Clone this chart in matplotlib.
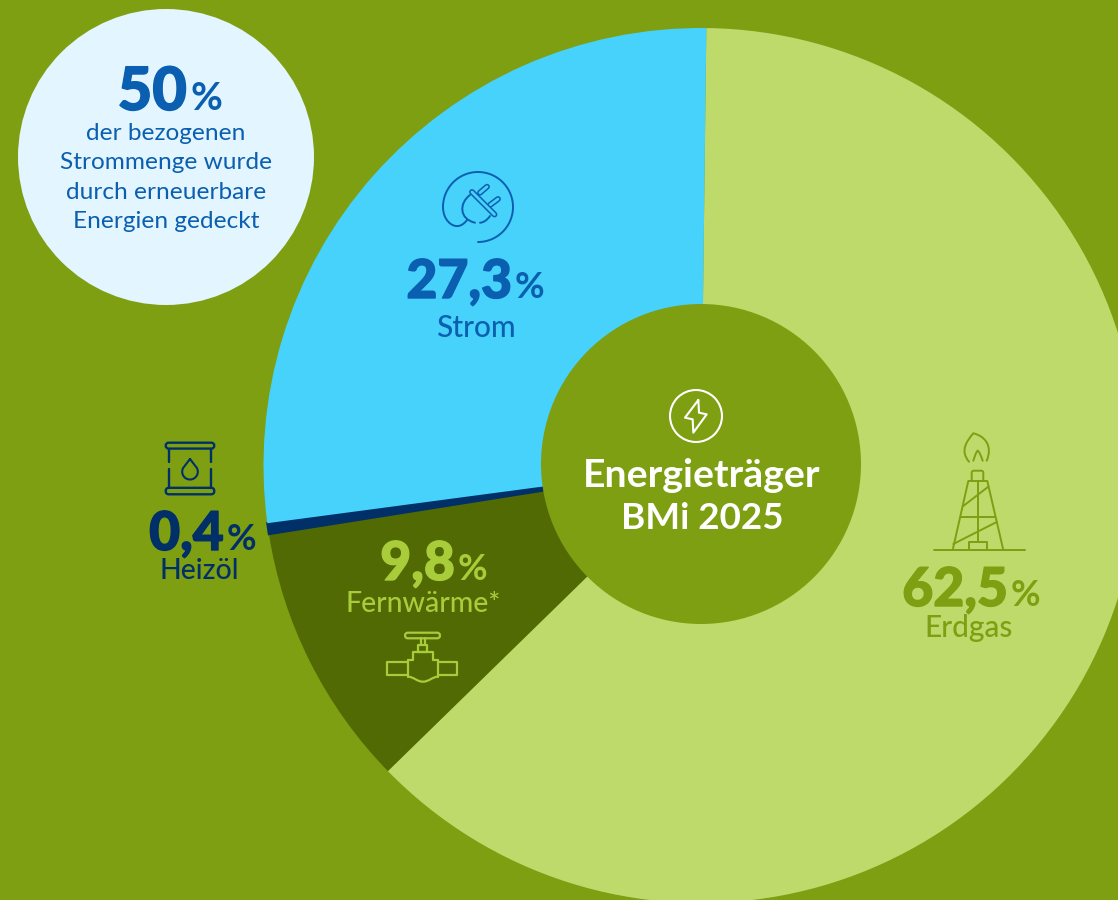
import matplotlib
matplotlib.use("Agg")
import matplotlib.pyplot as plt
import matplotlib.patheffects as pe
from matplotlib.patches import Circle, FancyBboxPatch, PathPatch
from matplotlib.path import Path
import numpy as np

shares = [62.5, 9.8, 0.4, 27.3]
share_names = ["Erdgas", "Fernwärme*", "Heizöl", "Strom"]
slice_colors = ["#BEDA6B", "#526A03", "#003067", "#46D2FA"]
callout_lines = ["der bezogenen", "Strommenge wurde", "durch erneuerbare", "Energien gedeckt"]

BG = "#7E9F12"
FONT = "Lato"
W, H = 1118, 900

plt.rcParams["font.family"] = [FONT, "DejaVu Sans"]
fig = plt.figure(figsize=(W / 100, H / 100), dpi=100, facecolor=BG)
ax = fig.add_axes([0, 0, 1, 1])
wedges, _ = ax.pie(shares, colors=slice_colors, startangle=89.3, counterclock=False,
                   center=(701, H - 465.5), radius=437.5, wedgeprops={"linewidth": 0})
# the thin slice looks a bit wider in the original
wedges[2].set_edgecolor(slice_colors[2])
wedges[2].set_linewidth(1.6)
ax.set_xlim(0, W)
ax.set_ylim(0, H)
ax.set_aspect("equal")
ax.axis("off")


def py(y):
    return H - np.asarray(y, dtype=float)


def line(xs, ys, color, lw=1.4):
    ax.plot(xs, py(ys), color=color, lw=lw, solid_capstyle="round", solid_joinstyle="round", zorder=6)


def capsule(xs, ys, color, fill, width=4.2):
    line(xs, ys, color, width)
    line(xs, ys, fill, width - 2.2)


def curve(points, color, lw=1.4):
    # first point then triples of bezier control points
    codes = [Path.MOVETO] + [Path.CURVE4] * (len(points) - 1)
    verts = [(x, H - y) for x, y in points]
    ax.add_patch(PathPatch(Path(verts, codes), fc="none", ec=color, lw=lw, capstyle="round", zorder=6))


def rrect(x0, y0, x1, y1, color, lw=1.4):
    r = (y1 - y0) / 2
    ax.add_patch(FancyBboxPatch((x0 + r, H - y1 + r), x1 - x0 - 2 * r, 0,
                                boxstyle=f"round,pad={r - 0.01},rounding_size={r}", fc="none", ec=color, lw=lw, zorder=6))


def value(x, baseline, number, color, size=38.5, pct_size=26):
    ax.text(x, H - baseline, number, color=color, fontsize=size, fontweight="black", ha="right", va="baseline", zorder=7,
            path_effects=[pe.withStroke(linewidth=1.0, foreground=color)])
    ax.text(x + 3, H - baseline, "%", color=color, fontsize=pct_size, fontweight="bold", ha="left", va="baseline", zorder=7)


def label(x, baseline, s, color, size=20, weight="medium"):
    ax.text(x, H - baseline, s, color=color, fontsize=size, fontweight=weight, ha="center", va="baseline", zorder=7)


# centre circle
ax.add_patch(Circle((701, H - 464), 160, fc=BG, ec="none", zorder=3))
label(702, 487, "Energieträger", "white", 28.3, "bold")
label(702, 529, "BMi 2025", "white", 26.5, "bold")
ax.add_patch(Circle((696, H - 416), 26, fc="none", ec="white", lw=1.5, zorder=6))
line(np.array([145, 105, 128, 130, 170, 147, 145]) / 3 + 650, np.array([60, 113, 118, 158, 103, 98, 60]) / 3 + 380, "white", 1.5)

# callout
CALL = "#0B5FB0"
ax.add_patch(Circle((166, H - 157), 148, fc="#E3F5FE", ec="none", zorder=3))
value(187, 110, "50", CALL, 43, 28)
for s, b in zip(callout_lines, [140, 169, 199, 228]):
    label(166, b, s, CALL, 17.6, "normal")

# values
value(512, 298, "27,3", CALL)
label(476, 337, share_names[3], CALL, 21.5)
value(1008, 606, "62,5", BG)
label(969, 637, share_names[0], BG, 21.5)
value(455, 580, "9,8", "#A9CC3B")
label(423, 612, share_names[1], "#A9CC3B", 20.5)
value(224, 550, "0,4", slice_colors[2])
label(199, 579, share_names[2], slice_colors[2], 20.5)

# plug icon
t = np.radians(np.linspace(-90, 180, 80))
line(478 + 35 * np.cos(t), 207 - 35 * np.sin(t), CALL)
curve([(443, 207), (443, 220), (452, 227), (458, 226), (461, 226), (465, 223), (467, 220)], CALL)
capsule([480, 487], [192.7, 186.7], CALL, slice_colors[3])
capsule([490, 498], [205, 199], CALL, slice_colors[3])
curve([(470, 195), (459, 203), (459, 219), (475, 222.7)], CALL)
curve([(480, 222.7), (484, 222.7), (488, 219), (490, 216)], CALL)
capsule([472, 494.5], [192, 214.5], CALL, slice_colors[3])

# rig icon
RIG = BG
line([934, 1025], [550, 550], RIG)
line([952.7, 968.3, 987.3, 1003.3], [550, 481, 481, 550], RIG)
line([971.7, 971.7, 973, 982, 983.3, 983.3], [481, 472, 470.7, 470.7, 472, 481], RIG)
line([977.7, 977.7], [481, 541.7], RIG)
line([960.7, 995], [517, 517], RIG)
line([963.3, 988.3], [506, 486.7], RIG)
line([953.3, 996.7], [544, 522], RIG)
line([969, 969, 987.3, 987.3], [550, 541.7, 541.7, 550], RIG)
curve([(969, 461.7), (960, 451), (966, 442), (973.3, 433.3), (985, 436), (993, 446), (986.7, 460.7)], RIG)
curve([(973.3, 460.7), (975, 456), (976, 452), (977.7, 450.7), (979.5, 452), (981, 456), (982.7, 460.7)], RIG)

# barrel icon
OIL = slice_colors[2]
rrect(165.7, 442.7, 214.3, 448.6, OIL, 1.7)
rrect(165.7, 487.8, 214.3, 494.3, OIL, 1.7)
line([169, 169], [449, 462], OIL, 1.7)
line([169, 169], [469, 488], OIL, 1.7)
line([210.7, 210.7], [449, 462], OIL, 1.7)
line([210.7, 210.7], [469, 488], OIL, 1.7)
t = np.radians(np.linspace(150, 390, 50))
line(np.r_[190, 190 + 7.8 * np.cos(t), 190], np.r_[459, 471.7 - 7.8 * np.sin(t), 459], OIL, 1.5)

# valve icon
VAL = "#A9CC3B"
rrect(405, 632.7, 440, 638.3, VAL, 1.6)
line([420.7, 420.7], [638.3, 645], VAL, 1.6)
line([425, 425], [638.3, 645], VAL, 1.6)
line([418.3, 418.3, 426.7, 426.7, 418.3], [651.7, 645, 645, 651.7, 651.7], VAL, 1.6)
line([408.3, 412.7, 412.7, 432.7, 432.7, 437.7], [660, 660, 651.7, 651.7, 660, 660], VAL, 1.6)
line([408.3, 408.3], [660, 676.7], VAL, 1.6)
line([437.7, 437.7], [660, 676.7], VAL, 1.6)
curve([(408.3, 676.7), (414, 677), (417, 681.7), (423, 681.7), (429, 681.7), (432, 677), (437.7, 676.7)], VAL, 1.6)
line([408.3, 387.3, 387.3, 408.3], [661.7, 661.7, 675, 675], VAL, 1.6)
line([437.7, 457.3, 457.3, 437.7], [661.7, 661.7, 675, 675], VAL, 1.6)

fig.savefig("out.png", dpi=100, facecolor=BG)
